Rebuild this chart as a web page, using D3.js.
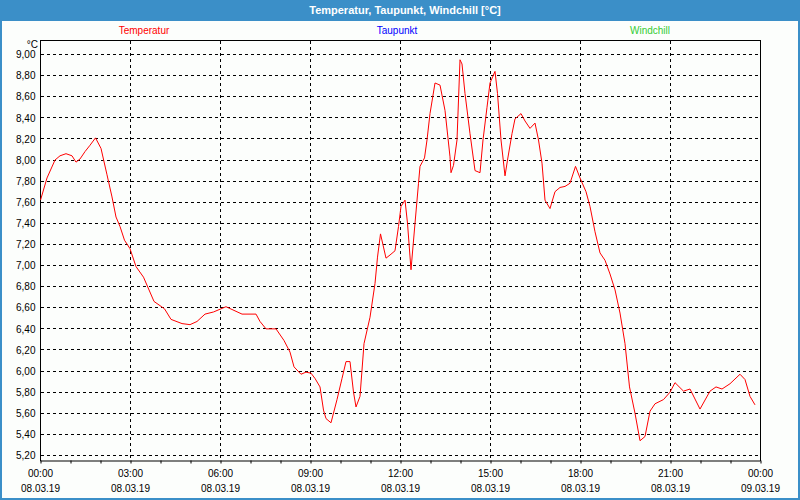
<!DOCTYPE html>
<html>
<head>
<meta charset="utf-8">
<script src="https://cdn.jsdelivr.net/npm/d3@7"></script>
<style>
  html, body { margin: 0; padding: 0; background: #ffffff; }
  svg { display: block; }
  text { font-family: "Liberation Sans", Arial, sans-serif; }
</style>
</head>
<body>
<svg id="chart" width="800" height="500"></svg>
<script>
// ---- DATA ----
const titleText = "Temperatur, Taupunkt, Windchill [°C]";
const seriesNames = ["Temperatur", "Taupunkt", "Windchill"];
const seriesColors = ["#ff0000", "#0000ff", "#33cc33"];

const times = [
  "00:00","00:13","00:29","00:39","00:51","01:03","01:11","01:19","01:29","01:39",
  "01:50","02:01","02:13","02:23","02:31","02:39","02:48","02:59","03:11","03:26",
  "03:47","04:08","04:21","04:43","04:59","05:13","05:29","05:46","06:11","06:43",
  "07:11","07:19","07:31","07:51","08:07","08:19","08:27","08:41","08:51","09:01",
  "09:09","09:19","09:26","09:31","09:41","09:53","10:03","10:11","10:19","10:26",
  "10:31","10:39","10:47","10:59","11:09","11:14","11:20","11:31","11:39","11:49",
  "11:56","12:01","12:09","12:14","12:21","12:29","12:36","12:39","12:48","12:53",
  "12:59","13:09","13:19","13:29","13:39","13:41","13:46","13:53","13:59","14:03",
  "14:09","14:19","14:29","14:39","14:45","14:53","14:59","15:09","15:14","15:21",
  "15:29","15:34","15:43","15:49","16:01","16:09","16:19","16:29","16:36","16:43",
  "16:49","16:59","17:09","17:19","17:29","17:39","17:50","17:59","18:11","18:19",
  "18:29","18:39","18:49","18:59","19:09","19:19","19:29","19:38","19:49","19:59",
  "20:09","20:19","20:29","20:46","20:59","21:09","21:26","21:39","21:59","22:19",
  "22:31","22:43","22:59","23:19","23:29","23:39","23:49"
];
const temperatur = [
  7.62,7.83,8.00,8.04,8.06,8.04,7.98,8.01,8.08,8.14,
  8.21,8.11,7.86,7.65,7.46,7.37,7.24,7.16,6.99,6.89,
  6.66,6.59,6.49,6.45,6.44,6.47,6.54,6.56,6.61,6.54,
  6.54,6.47,6.40,6.40,6.29,6.18,6.04,5.97,5.99,5.98,
  5.93,5.85,5.63,5.55,5.51,5.73,5.93,6.09,6.09,5.80,
  5.66,5.76,6.26,6.51,6.83,7.08,7.30,7.07,7.10,7.14,
  7.37,7.56,7.62,7.40,6.96,7.40,7.78,7.94,8.02,8.19,
  8.44,8.73,8.71,8.47,8.03,7.88,7.95,8.19,8.95,8.91,
  8.63,8.25,7.90,7.88,8.19,8.50,8.73,8.84,8.63,8.19,
  7.85,8.00,8.25,8.39,8.44,8.37,8.30,8.35,8.19,7.97,
  7.62,7.54,7.70,7.74,7.75,7.78,7.94,7.83,7.70,7.56,
  7.32,7.12,7.05,6.92,6.77,6.55,6.26,5.85,5.60,5.34,
  5.38,5.62,5.69,5.73,5.80,5.89,5.81,5.83,5.64,5.81,
  5.85,5.83,5.88,5.97,5.92,5.76,5.68
];

const yTicks = [5.2,5.4,5.6,5.8,6.0,6.2,6.4,6.6,6.8,7.0,7.2,7.4,7.6,7.8,8.0,8.2,8.4,8.6,8.8,9.0];
const xTickTimes = ["2019-03-08 00:00","2019-03-08 03:00","2019-03-08 06:00","2019-03-08 09:00",
                    "2019-03-08 12:00","2019-03-08 15:00","2019-03-08 18:00","2019-03-08 21:00",
                    "2019-03-09 00:00"];
const xTimeLabels = ["00:00","03:00","06:00","09:00","12:00","15:00","18:00","21:00","00:00"];
const xDateLabels = ["08.03.19","08.03.19","08.03.19","08.03.19","08.03.19","08.03.19","08.03.19","08.03.19","09.03.19"];
const dayStart = "2019-03-08";

// ---- CHART ----
const parse = d3.timeParse("%Y-%m-%d %H:%M");
const data = times.map((t, i) => ({ t: parse(dayStart + " " + t), v: temperatur[i] }));
const xTicks = xTickTimes.map(parse);

const svg = d3.select("#chart");
const W = 800, H = 500;
const L = 40.5, R = 760.5, T = 40.5, B = 460.5;

const x = d3.scaleTime().domain([xTicks[0], xTicks[xTicks.length - 1]]).range([L, R]);
const y = d3.scaleLinear().domain([5.2, 9.0]).range([455.5, 54.5]);

const deLocale = d3.formatLocale({ decimal: ",", thousands: ".", grouping: [3], currency: ["", " €"] });
const fmt = deLocale.format(".2f");

// background + frame
svg.append("rect").attr("x", 0).attr("y", 0).attr("width", W).attr("height", H).attr("fill", "#3b8fc8");
svg.append("rect").attr("x", 2).attr("y", 21).attr("width", W - 4).attr("height", H - 23).attr("fill", "#fcfefc");

// title
svg.append("text").attr("x", 405).attr("y", 14).attr("text-anchor", "middle")
  .attr("fill", "#ffffff").attr("font-weight", "bold").attr("font-size", "11px").text(titleText);

// legend
const legendX = [144, 397, 650];
svg.selectAll("text.legend").data(seriesNames).join("text").attr("class", "legend")
  .attr("x", (d, i) => legendX[i]).attr("y", 34).attr("text-anchor", "middle")
  .attr("font-size", "10px").attr("fill", (d, i) => seriesColors[i]).text(d => d);

// horizontal grid
svg.append("g").selectAll("line").data(yTicks).join("line")
  .attr("x1", L).attr("x2", R).attr("y1", d => y(d)).attr("y2", d => y(d))
  .attr("stroke", "#000").attr("stroke-dasharray", "3,3").attr("shape-rendering", "crispEdges");

// vertical grid
svg.append("g").selectAll("line").data(xTicks.slice(1, -1)).join("line")
  .attr("x1", d => x(d)).attr("x2", d => x(d)).attr("y1", T).attr("y2", B)
  .attr("stroke", "#000").attr("stroke-dasharray", "3,3").attr("shape-rendering", "crispEdges");

// frame lines
svg.append("path").attr("d", `M${L},${B}V${T}H${R}V${B}`).attr("fill", "none")
  .attr("stroke", "#000").attr("shape-rendering", "crispEdges");

// x axis
const xAxis = d3.axisBottom(x).ticks(d3.timeHour.every(1)).tickSize(3).tickFormat("");
const gx = svg.append("g").attr("transform", `translate(0,${B})`).call(xAxis);
gx.select(".domain").attr("d", `M${L},0.5H${R}`).attr("stroke", "#000");
gx.selectAll(".tick line").attr("stroke", "#000");

svg.selectAll("text.xt").data(xTicks).join("text").attr("class", "xt")
  .attr("x", d => x(d)).attr("y", 477).attr("text-anchor", "middle")
  .attr("font-size", "10px").attr("fill", "#000").text((d, i) => xTimeLabels[i]);
svg.selectAll("text.xd").data(xTicks).join("text").attr("class", "xd")
  .attr("x", d => x(d)).attr("y", 492).attr("text-anchor", "middle")
  .attr("font-size", "10px").attr("fill", "#000").text((d, i) => xDateLabels[i]);

// y axis labels
const yAxis = d3.axisLeft(y).tickValues(yTicks).tickSize(0).tickPadding(5).tickFormat(fmt);
const gy = svg.append("g").attr("transform", `translate(${L},0)`).call(yAxis);
gy.select(".domain").remove();
gy.selectAll(".tick text").attr("font-size", "10px").attr("fill", "#000")
  .attr("font-family", "Liberation Sans, Arial, sans-serif");
svg.append("text").attr("x", 38).attr("y", 48).attr("text-anchor", "end")
  .attr("font-size", "10px").attr("fill", "#000").text("°C");

// line
const line = d3.line().x(d => x(d.t)).y(d => y(d.v));
svg.append("path").datum(data).attr("d", line).attr("fill", "none")
  .attr("stroke", seriesColors[0]).attr("stroke-width", 1);
</script>
</body>
</html>
